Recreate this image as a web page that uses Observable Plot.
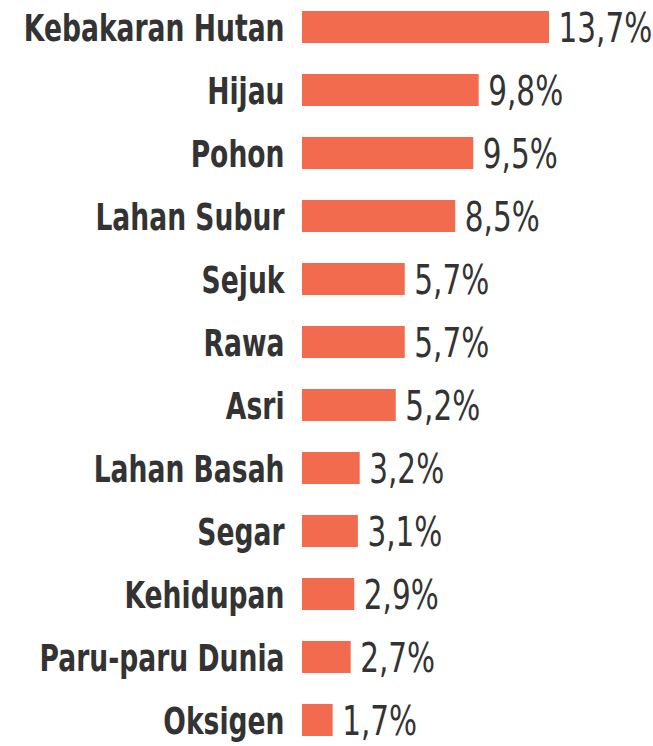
<!DOCTYPE html>
<html>
<head>
<meta charset="utf-8">
<script src="https://cdn.jsdelivr.net/npm/d3@7"></script>
<script src="https://cdn.jsdelivr.net/npm/@observablehq/plot@0.6"></script>
<style>
  html, body { margin: 0; padding: 0; background: #fff; }
  #chart svg { display: block; }
</style>
</head>
<body>
<div id="chart"></div>
<script>
const categories = ["Kebakaran Hutan", "Hijau", "Pohon", "Lahan Subur", "Sejuk", "Rawa", "Asri", "Lahan Basah", "Segar", "Kehidupan", "Paru-paru Dunia", "Oksigen"];
const values = [13.7, 9.8, 9.5, 8.5, 5.7, 5.7, 5.2, 3.2, 3.1, 2.9, 2.7, 1.7];

const data = categories.map((c, i) => ({category: c, value: values[i]}));
const fmt = v => v.toFixed(1).replace(".", ",") + "%";
const font = "'DejaVu Sans', sans-serif";

const chart = Plot.plot({
  width: 653,
  height: 746,
  marginLeft: 302,
  marginRight: 104,
  marginTop: 10,
  marginBottom: 10,
  style: {background: "#fff"},
  x: {domain: [0, 13.7], axis: null},
  y: {domain: categories, paddingInner: 0.5, paddingOuter: 0, align: 0.5, axis: null},
  marks: [
    Plot.barX(data, {x: "value", y: "category", fill: "#F26B4E"}),
    Plot.text(data, {
      x: "value", y: "category", text: d => fmt(d.value),
      textAnchor: "start", dx: 9, dy: 1.5,
      fontSize: 41, fontFamily: font, fill: "#333",
      className: "vals"
    }),
    Plot.axisY({
      label: null,
      tickSize: 0, tickPadding: 18,
      fontSize: 38, fontWeight: "bold", fontFamily: font, fill: "#333",
      dy: 1.5,
      className: "cats"
    })
  ]
});

// horizontally condense each text about its anchor to mimic a condensed typeface
function condense(sel, s) {
  sel.each(function () {
    const t = this.getAttribute("transform") || "";
    this.setAttribute("transform", `${t} scale(${s},1)`);
  });
}
condense(d3.select(chart).selectAll(".vals text"), 0.72);
condense(d3.select(chart).selectAll(".cats text"), 0.70);

document.getElementById("chart").appendChild(chart);
</script>
</body>
</html>
